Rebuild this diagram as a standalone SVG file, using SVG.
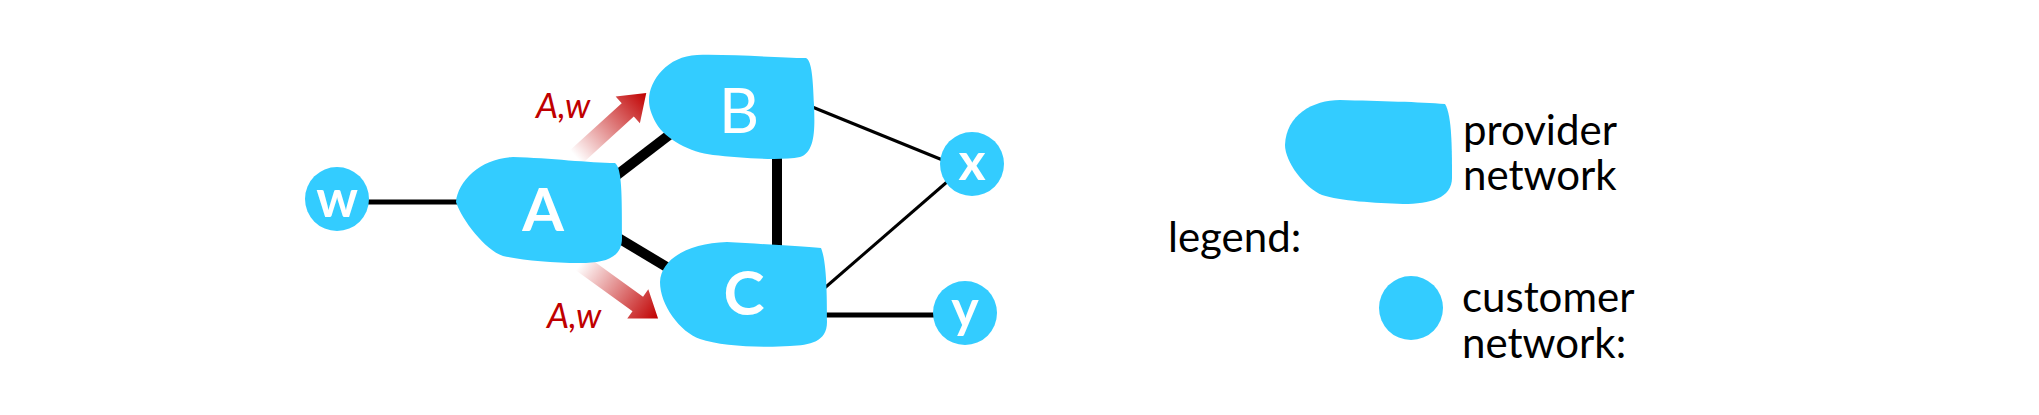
<svg xmlns="http://www.w3.org/2000/svg" width="2039" height="415" viewBox="0 0 2039 415">
<style>
.blob{fill:#33ccff}
.cust{fill:#33ccff}
.lbl{fill:#ffffff;font-family:Lato,"Liberation Sans",sans-serif;text-anchor:middle}
.red{fill:#c00000;font-family:Lato,"Liberation Sans",sans-serif;font-style:italic;font-size:35px}
.leg{fill:#000000;font-family:Lato,"Liberation Sans",sans-serif;font-size:42px}
.thick{stroke:#000;stroke-width:10;fill:none}
.med{stroke:#000;stroke-width:5;fill:none}
.thin{stroke:#000;stroke-width:3;fill:none}
</style>
<defs>
<linearGradient id="fade" x1="0" y1="0" x2="1" y2="0">
<stop offset="0" stop-color="#c00000" stop-opacity="0"/>
<stop offset="1" stop-color="#c00000" stop-opacity="1"/>
</linearGradient>
<path id="arrowShape" d="M0,-9 L70,-9 L70,-18 L95,0 L70,18 L70,9 L0,9 Z"/>
</defs>
<rect width="2039" height="415" fill="#ffffff"/>

<g id="connectors">
<line class="med" x1="337" y1="202" x2="500" y2="202"/>
<line class="thick" x1="600" y1="188" x2="690" y2="119"/>
<line class="thick" x1="600" y1="227" x2="690" y2="281"/>
<line class="thick" x1="777" y1="150" x2="777" y2="252"/>
<line class="thin" x1="800" y1="102" x2="945" y2="161"/>
<line class="thin" x1="820" y1="292" x2="955" y2="175"/>
<line class="med" x1="800" y1="315" x2="965" y2="315"/>
</g>

<g id="route-arrows">
<use href="#arrowShape" fill="url(#fade)" transform="translate(576,157) rotate(-42.3)"/>
<use href="#arrowShape" fill="url(#fade)" transform="translate(581,263) rotate(35.8)"/>
<text class="red" x="536" y="118">A,w</text>
<text class="red" x="547" y="328">A,w</text>
</g>

<g id="node-w">
<circle class="cust" cx="337" cy="199" r="32"/>
<text class="lbl" x="337" y="217" font-size="52" font-weight="bold">w</text>
</g>

<g id="node-A">
<path class="blob" d="M456,202 C458,180 482,158 513,157 C550,158 590,163 615,163 C622,168 622,195 622,238 C622,258 605,263 580,263 C550,263 522,260 503,256 C485,250 462,220 456,202 Z"/>
<text class="lbl" x="543" y="231" font-size="60" font-weight="bold">A</text>
</g>

<g id="node-B">
<path class="blob" d="M649,100 C649,80 668,56 697,55 C730,54 780,58 806,58 C812,61 813,80 814,105 C815,130 815,152 800,157 C780,161 740,158 713,155 C690,152 666,140 656,123 C651,114 649,107 649,100 Z"/>
<text class="lbl" x="739" y="133" font-size="62">B</text>
</g>

<g id="node-C">
<path class="blob" d="M660,282 C661,258 690,243 727,242 C760,244 800,246 821,248 C827,262 827,300 827,322 C827,342 810,345 790,346 C760,348 720,346 700,339 C680,332 660,305 660,282 Z"/>
<text class="lbl" x="744" y="315" font-size="62" font-weight="bold">C</text>
</g>

<g id="node-x">
<circle class="cust" cx="972" cy="164" r="32"/>
<text class="lbl" x="972" y="180" font-size="52" font-weight="bold">x</text>
</g>

<g id="node-y">
<circle class="cust" cx="965" cy="313" r="32"/>
<text class="lbl" x="965" y="327" font-size="52" font-weight="bold">y</text>
</g>

<g id="legend">
<text class="leg" x="1168" y="252">legend:</text>
<path class="blob" d="M1285,145 C1286,115 1313,100 1340,100 C1380,101 1420,102 1445,104 C1452,115 1452,150 1452,178 C1452,198 1430,204 1403,204 C1375,203 1340,201 1322,195 C1305,188 1285,162 1285,145 Z"/>
<text class="leg" x="1463" y="145">provider</text>
<text class="leg" x="1463" y="190">network</text>
<circle class="cust" cx="1411" cy="308" r="32"/>
<text class="leg" x="1462" y="312">customer</text>
<text class="leg" x="1462" y="358">network:</text>
</g>
</svg>
